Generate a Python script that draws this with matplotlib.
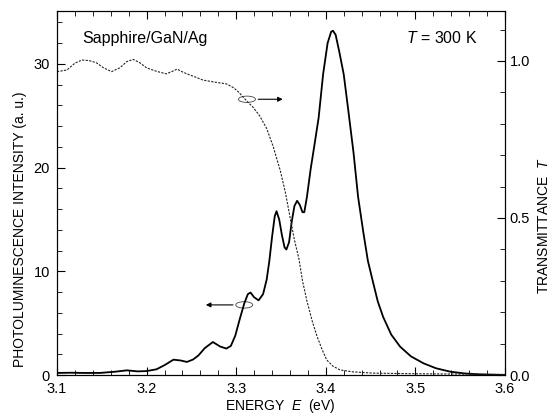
import matplotlib.pyplot as plt
from matplotlib.patches import Ellipse
from matplotlib.ticker import MultipleLocator

plt.rcParams['font.family'] = ['Liberation Sans', 'DejaVu Sans']
plt.rcParams['mathtext.fontset'] = 'custom'
plt.rcParams['mathtext.it'] = 'Liberation Sans:italic'
plt.rcParams['mathtext.rm'] = 'Liberation Sans'

# photoluminescence (left axis)
pl_energy = [3.100, 3.115, 3.130, 3.148, 3.165, 3.178, 3.190, 3.200, 3.211, 3.220,
             3.230, 3.238, 3.245, 3.252, 3.258, 3.265, 3.274, 3.282, 3.289, 3.294,
             3.299, 3.304, 3.309, 3.313, 3.316, 3.320, 3.325, 3.330, 3.334, 3.337,
             3.340, 3.343, 3.345, 3.348, 3.351, 3.354, 3.356, 3.359, 3.362, 3.365,
             3.368, 3.371, 3.374, 3.376, 3.379, 3.383, 3.387, 3.392, 3.397, 3.402,
             3.406, 3.408, 3.411, 3.415, 3.420, 3.425, 3.431, 3.436, 3.442, 3.447,
             3.453, 3.458, 3.464, 3.473, 3.483, 3.495, 3.509, 3.523, 3.539, 3.555,
             3.572, 3.590, 3.600]
pl_intensity = [0.20, 0.22, 0.20, 0.20, 0.32, 0.45, 0.35, 0.38, 0.55, 0.95,
                1.48, 1.40, 1.26, 1.50, 1.90, 2.60, 3.18, 2.75, 2.55, 2.80,
                3.80, 5.40, 6.90, 7.80, 7.95, 7.50, 7.20, 7.80, 9.20, 11.0,
                13.3, 15.3, 15.8, 15.0, 13.5, 12.3, 12.1, 12.8, 14.8, 16.3,
                16.8, 16.4, 15.7, 15.7, 17.2, 19.8, 22.0, 24.8, 29.0, 32.0,
                33.1, 33.2, 32.8, 31.2, 29.0, 25.6, 21.4, 17.2, 13.7, 11.0,
                8.85, 7.1, 5.6, 3.9, 2.73, 1.80, 1.13, 0.65, 0.32, 0.15,
                0.06, 0.02, 0.0]

# transmittance (right axis)
tr_energy = [3.100, 3.111, 3.120, 3.128, 3.136, 3.144, 3.152, 3.161, 3.170, 3.178,
             3.185, 3.192, 3.200, 3.211, 3.222, 3.228, 3.234, 3.240, 3.245, 3.255,
             3.263, 3.275, 3.289, 3.297, 3.303, 3.308, 3.314, 3.319, 3.326, 3.334,
             3.341, 3.349, 3.355, 3.360, 3.365, 3.370, 3.374, 3.379, 3.385, 3.390,
             3.396, 3.401, 3.408, 3.416, 3.430, 3.453, 3.500, 3.550, 3.600]
transmittance = [0.966, 0.971, 0.993, 1.003, 1.001, 0.994, 0.978, 0.966, 0.978, 0.998,
                 1.005, 0.995, 0.978, 0.967, 0.959, 0.966, 0.974, 0.965, 0.959, 0.948,
                 0.939, 0.933, 0.927, 0.915, 0.900, 0.884, 0.866, 0.852, 0.826, 0.785,
                 0.730, 0.653, 0.580, 0.504, 0.430, 0.370, 0.300, 0.235, 0.170, 0.125,
                 0.080, 0.048, 0.028, 0.016, 0.010, 0.006, 0.004, 0.003, 0.002]

fig = plt.figure(figsize=(5.55, 4.17), dpi=100)
ax = fig.add_axes([0.1027, 0.1007, 0.8072, 0.8729])
ax2 = ax.twinx()

ax.plot(pl_energy, pl_intensity, color='black', lw=1.3)
ax2.plot(tr_energy, transmittance, color='#222222', lw=0.8, linestyle=(0, (2, 1.2)))

ax.set_xlim(3.1, 3.6)
ax.set_ylim(0, 35.1)
ax2.set_ylim(0, 1.159)

ax.xaxis.set_major_locator(MultipleLocator(0.1))
ax.xaxis.set_minor_locator(MultipleLocator(0.02))
ax.yaxis.set_major_locator(MultipleLocator(10))
ax.yaxis.set_minor_locator(MultipleLocator(2))
ax2.yaxis.set_major_locator(MultipleLocator(0.5))
ax2.yaxis.set_minor_locator(MultipleLocator(0.1))
ax.xaxis.set_major_formatter(lambda v, p: f'{v:.1f}')
ax2.yaxis.set_major_formatter(lambda v, p: f'{v:.1f}')

ax.tick_params(which='both', direction='in', top=True, labelsize=10.5)
ax.tick_params(which='major', length=6, width=0.8)
ax.tick_params(which='minor', length=3.5, width=0.6)
ax.tick_params(axis='x', pad=5)
ax.tick_params(axis='y', pad=5)
ax2.tick_params(which='both', direction='in', labelsize=10.5)
ax2.tick_params(which='major', length=6, width=0.8)
ax2.tick_params(which='minor', length=3.5, width=0.6)

ax.set_xlabel('ENERGY  $E$  (eV)', fontsize=10)
ax.set_ylabel('PHOTOLUMINESCENCE INTENSITY (a. u.)', fontsize=10)
ax2.set_ylabel('TRANSMITTANCE  $T$', fontsize=10)
ax.xaxis.set_label_coords(0.498, -0.06)
ax.yaxis.set_label_coords(-0.066, 0.40)
ax2.yaxis.set_label_coords(1.072, 0.41)

ax.text(0.056, 0.925, 'Sapphire/GaN/Ag', transform=ax.transAxes, fontsize=11.5, va='center')
ax.text(0.939, 0.925, '$T$ = 300 K', transform=ax.transAxes, fontsize=11.5, va='center', ha='right')

# ellipses with arrows marking which axis each curve belongs to
ax2.add_patch(Ellipse((3.312, 0.878), 0.019, 0.02, fill=False, lw=0.6, ec='#444444'))
ax2.annotate('', xy=(3.355, 0.878), xytext=(3.3215, 0.878),
             arrowprops=dict(arrowstyle='-|>', lw=0.8, color='black', mutation_scale=7))
ax.add_patch(Ellipse((3.309, 6.76), 0.019, 0.62, fill=False, lw=0.6, ec='#444444'))
ax.annotate('', xy=(3.263, 6.76), xytext=(3.2995, 6.76),
            arrowprops=dict(arrowstyle='-|>', lw=0.8, color='black', mutation_scale=7))

fig.savefig('out.png', dpi=100)
